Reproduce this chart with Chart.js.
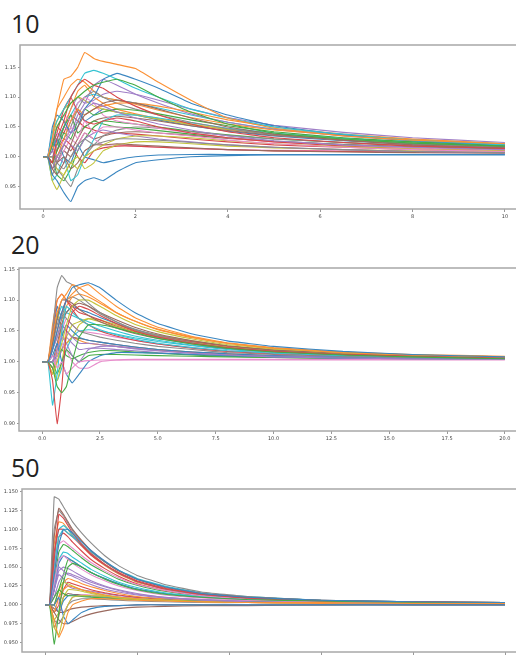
<!DOCTYPE html>
<html>
<head>
<meta charset="utf-8">
<script src="https://cdn.jsdelivr.net/npm/chart.js@4.4.1/dist/chart.umd.min.js"></script>
<style>
  html, body { margin: 0; padding: 0; width: 516px; height: 656px; overflow: hidden; background: #fff; }
  .title { position: absolute; left: 11px; font-family: "Open Sans", sans-serif; font-size: 25px; line-height: 25px; color: #222; }
  canvas { position: absolute; left: 0; }
</style>
</head>
<body>
<div class="title" style="top:11px">10</div>
<canvas id="c10" width="540" height="185" style="top:40px"></canvas>
<div class="title" style="top:232px">20</div>
<canvas id="c20" width="540" height="184" style="top:263px"></canvas>
<div class="title" style="top:455px">50</div>
<canvas id="c50" width="540" height="184" style="top:484px"></canvas>
<script>
// ====== DATA ======
const colors = ["#3a86c0", "#fb9136", "#45ab45", "#d8474a", "#a07fc7", "#9a6a5f", "#e78dcb", "#8c8c8c", "#c3c43d", "#35c3d2"];

// panel "10"
const x10 = [0, 0.1, 0.2, 0.3, 0.45, 0.6, 0.75, 0.9, 1.1, 1.3, 1.6, 2, 2.5, 3.2, 4, 5, 6.5, 8, 10];
const xTicks10 = [0, 2, 4, 6, 8, 10];
const yTicks10 = [0.95, 1.0, 1.05, 1.1, 1.15];
const lines10 = [
  [1,1,0.97,0.96,0.94,0.925,0.95,0.96,0.965,0.96,0.975,0.99,0.995,1.0,1.002,1.003,1.003,1.003,1.003],
  [1,1,1.03,1.08,1.13,1.135,1.15,1.175,1.165,1.16,1.155,1.148,1.125,1.095,1.065,1.048,1.035,1.028,1.022],
  [1,1,1.02,1.05,1.07,1.09,1.1,1.11,1.12,1.125,1.13,1.12,1.1,1.075,1.055,1.04,1.03,1.023,1.018],
  [1,1,0.99,1.03,1.06,1.1,1.12,1.13,1.12,1.115,1.1,1.085,1.07,1.055,1.042,1.032,1.024,1.018,1.014],
  [1,1,1.01,1.0,1.02,1.04,1.06,1.08,1.09,1.085,1.075,1.065,1.055,1.045,1.035,1.027,1.02,1.016,1.012],
  [1,1,0.98,0.97,0.99,1.02,1.05,1.07,1.08,1.09,1.095,1.09,1.08,1.065,1.05,1.038,1.028,1.02,1.015],
  [1,1,1.03,1.04,1.02,1.05,1.03,1.06,1.04,1.05,1.05,1.045,1.04,1.035,1.028,1.022,1.016,1.012,1.009],
  [1,1,1.0,0.99,0.98,1.0,1.02,1.03,1.02,1.025,1.03,1.03,1.028,1.024,1.02,1.016,1.012,1.009,1.007],
  [1,1,0.96,0.945,0.97,0.99,0.98,1.0,1.01,1.02,1.03,1.035,1.035,1.032,1.027,1.022,1.017,1.013,1.01],
  [1,1,1.04,1.06,1.08,1.1,1.12,1.14,1.145,1.14,1.13,1.115,1.1,1.08,1.065,1.05,1.038,1.028,1.02],
  [1,1,1.05,1.07,1.06,1.04,1.05,1.08,1.1,1.13,1.14,1.13,1.115,1.09,1.07,1.052,1.037,1.027,1.02],
  [1,1,1.02,1.0,1.03,1.06,1.08,1.07,1.08,1.085,1.09,1.09,1.085,1.075,1.062,1.05,1.038,1.03,1.022],
  [1,1,0.99,1.01,1.04,1.03,1.06,1.08,1.07,1.075,1.08,1.078,1.072,1.062,1.052,1.042,1.032,1.025,1.019],
  [1,1,1.02,1.04,1.08,1.1,1.075,1.06,1.055,1.06,1.065,1.06,1.05,1.04,1.032,1.025,1.018,1.013,1.01],
  [1,1,0.98,1.0,0.99,1.02,1.01,1.03,1.04,1.045,1.04,1.035,1.03,1.025,1.02,1.016,1.012,1.009,1.007],
  [1,1,1.01,0.99,1.0,0.98,0.99,1.01,1.02,1.02,1.022,1.02,1.018,1.015,1.012,1.01,1.008,1.007,1.006],
  [1,1,1.03,1.05,1.07,1.06,1.09,1.1,1.09,1.07,1.06,1.055,1.048,1.04,1.032,1.025,1.019,1.015,1.011],
  [1,1,0.97,0.99,1.02,1.05,1.08,1.1,1.11,1.1,1.09,1.08,1.07,1.058,1.047,1.037,1.028,1.021,1.016],
  [1,1,1.0,0.98,0.97,0.99,1.0,0.98,0.99,1.01,1.02,1.025,1.025,1.022,1.018,1.015,1.012,1.01,1.008],
  [1,1,0.96,0.97,1.0,0.96,0.97,1.0,1.03,1.06,1.07,1.07,1.065,1.057,1.048,1.04,1.031,1.025,1.02],
  [1,1,1.01,1.03,1.0,0.99,1.02,1.0,0.995,0.99,0.995,1.0,1.003,1.004,1.004,1.004,1.004,1.004,1.004],
  [1,1,1.04,1.08,1.1,1.12,1.13,1.125,1.11,1.1,1.095,1.088,1.078,1.066,1.055,1.045,1.036,1.028,1.021],
  [1,1,1.02,1.02,1.05,1.07,1.04,1.05,1.06,1.055,1.05,1.048,1.044,1.038,1.032,1.026,1.02,1.016,1.013],
  [1,1,0.99,1.01,1.03,1.02,1.0,0.99,1.01,1.015,1.018,1.018,1.016,1.014,1.012,1.01,1.009,1.008,1.007],
  [1,1,1.0,1.02,1.05,1.04,1.07,1.09,1.12,1.13,1.12,1.105,1.09,1.072,1.058,1.046,1.035,1.027,1.02],
  [1,1,0.98,1.0,1.02,1.01,1.03,1.05,1.06,1.065,1.068,1.065,1.06,1.052,1.044,1.036,1.028,1.022,1.017],
  [1,1,1.02,0.99,1.01,1.03,1.02,1.04,1.03,1.02,1.02,1.018,1.016,1.014,1.012,1.011,1.01,1.009,1.008],
  [1,1,0.99,0.98,0.965,0.95,0.98,1.0,1.02,1.035,1.045,1.05,1.048,1.042,1.036,1.03,1.024,1.019,1.015],
  [1,1,1.03,1.06,1.08,1.09,1.1,1.095,1.085,1.08,1.075,1.07,1.063,1.054,1.046,1.038,1.03,1.024,1.019],
  [1,1,1.02,1.03,1.05,1.07,1.09,1.1,1.105,1.1,1.095,1.09,1.082,1.07,1.058,1.047,1.037,1.029,1.022],
  [1,1,1.01,1.04,1.03,1.06,1.08,1.06,1.07,1.08,1.075,1.07,1.062,1.052,1.043,1.035,1.027,1.021,1.016],
  [1,1,0.99,1.02,1.05,1.08,1.11,1.12,1.1,1.09,1.08,1.072,1.064,1.055,1.046,1.038,1.03,1.024,1.018],
  [1,1,1.0,0.97,0.96,0.98,1.01,1.03,1.05,1.06,1.058,1.055,1.05,1.043,1.037,1.03,1.024,1.019,1.015],
  [1,1,1.02,1.05,1.04,1.07,1.06,1.05,1.045,1.04,1.04,1.038,1.035,1.03,1.025,1.02,1.016,1.012,1.009],
  [1,1,1.03,1.01,1.05,1.08,1.1,1.09,1.095,1.105,1.11,1.105,1.095,1.08,1.066,1.053,1.041,1.032,1.024],
  [1,1,0.98,0.99,1.01,1.0,1.02,1.04,1.03,1.035,1.04,1.042,1.04,1.036,1.031,1.026,1.021,1.017,1.013]
];

// panel "20"
const x20 = [0, 0.25, 0.45, 0.65, 0.85, 1.05, 1.3, 1.6, 2, 2.5, 3.2, 4, 5, 6.5, 8, 10, 13, 16, 20];
const xTicks20 = [0, 2.5, 5, 7.5, 10, 12.5, 15, 17.5, 20];
const yTicks20 = [0.9, 0.95, 1.0, 1.05, 1.1, 1.15];
const lines20 = [
  [1,1,1.02,1.05,1.08,1.1,1.12,1.125,1.128,1.12,1.1,1.08,1.062,1.045,1.034,1.025,1.017,1.012,1.008],
  [1,1,1.04,1.08,1.1,1.11,1.125,1.12,1.11,1.098,1.08,1.066,1.052,1.039,1.03,1.022,1.015,1.011,1.008],
  [1,1,0.99,0.96,0.95,0.96,1.0,1.04,1.06,1.06,1.055,1.047,1.038,1.029,1.022,1.016,1.011,1.008,1.005],
  [1,1,0.97,0.9,0.96,1.05,1.08,1.09,1.085,1.075,1.062,1.05,1.04,1.03,1.023,1.017,1.012,1.009,1.006],
  [1,1,1.0,1.02,1.04,1.03,1.01,1.0,1.02,1.025,1.025,1.022,1.018,1.014,1.011,1.008,1.006,1.005,1.004],
  [1,1,1.03,1.07,1.1,1.1,1.095,1.085,1.075,1.065,1.055,1.046,1.038,1.029,1.022,1.017,1.012,1.009,1.007],
  [1,1,1.01,0.99,1.0,0.98,0.99,1.0,1.002,1.003,1.003,1.003,1.003,1.003,1.003,1.003,1.003,1.003,1.003],
  [1,1,1.05,1.12,1.14,1.13,1.125,1.11,1.095,1.08,1.065,1.052,1.041,1.031,1.023,1.017,1.012,1.009,1.007],
  [1,1,0.98,1.0,1.03,1.06,1.09,1.1,1.1,1.09,1.075,1.061,1.049,1.037,1.028,1.021,1.015,1.011,1.008],
  [1,1,0.93,0.98,1.05,1.09,1.08,1.07,1.06,1.052,1.044,1.037,1.03,1.023,1.018,1.014,1.01,1.008,1.006],
  [1,1,1.01,1.03,1.0,0.98,0.966,0.98,1.0,1.01,1.015,1.015,1.014,1.012,1.01,1.008,1.006,1.005,1.004],
  [1,1,1.06,1.1,1.11,1.1,1.11,1.12,1.125,1.11,1.09,1.072,1.056,1.041,1.031,1.023,1.016,1.012,1.009],
  [1,1,1.0,0.98,1.0,1.02,1.01,1.0,1.01,1.012,1.012,1.011,1.01,1.009,1.008,1.007,1.006,1.005,1.004],
  [1,1,1.05,1.1,1.11,1.1,1.085,1.07,1.06,1.05,1.042,1.035,1.029,1.022,1.017,1.013,1.01,1.008,1.006],
  [1,1,1.02,1.04,1.06,1.05,1.04,1.03,1.03,1.028,1.025,1.021,1.018,1.014,1.011,1.009,1.007,1.005,1.004],
  [1,1,1.0,1.03,1.06,1.08,1.09,1.095,1.09,1.08,1.068,1.056,1.045,1.034,1.026,1.019,1.014,1.01,1.008],
  [1,1,0.99,1.01,1.03,1.02,1.0,0.99,0.99,1.0,1.003,1.004,1.004,1.004,1.004,1.004,1.004,1.004,1.004],
  [1,1,1.03,1.06,1.08,1.07,1.06,1.05,1.045,1.04,1.035,1.03,1.025,1.02,1.015,1.012,1.009,1.007,1.005],
  [1,1,0.99,0.97,1.0,1.04,1.06,1.065,1.07,1.065,1.057,1.048,1.04,1.031,1.024,1.018,1.013,1.01,1.007],
  [1,1,1.02,1.07,1.09,1.08,1.075,1.07,1.065,1.058,1.05,1.042,1.035,1.027,1.021,1.016,1.012,1.009,1.007],
  [1,1,1.0,1.01,1.04,1.06,1.05,1.04,1.035,1.032,1.028,1.024,1.02,1.016,1.013,1.01,1.008,1.006,1.005],
  [1,1,0.98,1.02,1.06,1.09,1.105,1.11,1.105,1.095,1.08,1.066,1.053,1.04,1.03,1.022,1.015,1.011,1.008],
  [1,1,0.99,1.01,1.02,1.01,1.005,1.01,1.015,1.018,1.018,1.016,1.014,1.011,1.009,1.007,1.006,1.005,1.004],
  [1,1,1.02,1.05,1.08,1.1,1.09,1.08,1.075,1.068,1.058,1.049,1.041,1.032,1.025,1.019,1.014,1.01,1.008],
  [1,1,1.01,1.0,1.02,1.04,1.03,1.02,1.022,1.022,1.02,1.018,1.015,1.012,1.01,1.008,1.006,1.005,1.004],
  [1,1,1.04,1.07,1.06,1.05,1.04,1.038,1.035,1.032,1.028,1.024,1.02,1.016,1.013,1.01,1.008,1.006,1.005],
  [1,1,1.0,1.02,1.05,1.07,1.06,1.05,1.048,1.045,1.04,1.035,1.029,1.023,1.018,1.014,1.01,1.008,1.006],
  [1,1,1.02,1.04,1.07,1.1,1.105,1.1,1.09,1.078,1.065,1.053,1.043,1.033,1.025,1.019,1.014,1.01,1.008],
  [1,1,1.03,1.08,1.05,1.03,1.04,1.06,1.07,1.068,1.06,1.051,1.043,1.034,1.026,1.02,1.014,1.011,1.008],
  [1,1,1.0,0.97,0.99,1.02,1.04,1.05,1.052,1.05,1.045,1.039,1.033,1.026,1.02,1.015,1.011,1.008,1.006],
  [1,1,1.04,1.09,1.07,1.08,1.09,1.085,1.08,1.072,1.062,1.052,1.043,1.033,1.025,1.019,1.014,1.01,1.007],
  [1,1,0.99,1.0,1.02,1.03,1.04,1.035,1.03,1.028,1.025,1.022,1.019,1.015,1.012,1.009,1.007,1.005,1.004]
];

// panel "50"
const x50 = [0, 0.5, 1, 1.5, 2, 2.5, 3, 4, 5, 6.5, 8, 10, 13, 17, 22, 30, 40, 50];
const xTicks50 = [0, 10, 20, 30, 40, 50];
const yTicks50 = [0.95, 0.975, 1.0, 1.025, 1.05, 1.075, 1.1, 1.125, 1.15];
const lines50 = [
  [1,1,1.04,1.08,1.1,1.1,1.095,1.083,1.072,1.058,1.046,1.034,1.024,1.015,1.01,1.006,1.004,1.003],
  [1,1,0.98,0.957,0.97,0.99,1.0,1.005,1.008,1.008,1.007,1.006,1.005,1.004,1.003,1.003,1.002,1.002],
  [1,1,0.948,0.99,1.03,1.05,1.055,1.05,1.043,1.034,1.027,1.02,1.014,1.01,1.007,1.005,1.003,1.003],
  [1,1,1.06,1.12,1.115,1.105,1.095,1.08,1.068,1.054,1.043,1.032,1.022,1.014,1.009,1.005,1.004,1.003],
  [1,1,1.02,1.05,1.045,1.04,1.038,1.032,1.027,1.021,1.017,1.013,1.009,1.006,1.004,1.003,1.002,1.002],
  [1,1,1.09,1.128,1.12,1.11,1.1,1.085,1.072,1.057,1.045,1.034,1.023,1.015,1.01,1.006,1.004,1.003],
  [1,1,1.03,1.06,1.065,1.06,1.055,1.047,1.04,1.032,1.025,1.019,1.013,1.009,1.006,1.004,1.003,1.002],
  [1,1,1.143,1.14,1.13,1.12,1.11,1.095,1.082,1.065,1.052,1.039,1.027,1.017,1.011,1.006,1.004,1.003],
  [1,1,0.97,0.96,0.985,1.0,1.01,1.012,1.012,1.011,1.009,1.007,1.006,1.004,1.003,1.003,1.002,1.002],
  [1,1,1.05,1.09,1.1,1.095,1.09,1.08,1.07,1.057,1.046,1.035,1.025,1.016,1.011,1.006,1.004,1.003],
  [1,1,1.0,1.01,0.985,0.975,0.98,0.99,0.995,0.998,0.999,1.0,1.0,1.0,1.0,1.0,1.0,1.0],
  [1,1,1.0,1.01,1.02,1.025,1.024,1.02,1.017,1.013,1.01,1.008,1.006,1.004,1.003,1.002,1.002,1.002],
  [1,1,1.01,1.02,1.015,1.012,1.012,1.011,1.01,1.009,1.008,1.007,1.006,1.005,1.004,1.003,1.003,1.003],
  [1,1,1.07,1.1,1.1,1.095,1.09,1.078,1.066,1.053,1.042,1.031,1.021,1.014,1.009,1.005,1.004,1.003],
  [1,1,1.01,1.03,1.04,1.042,1.04,1.035,1.03,1.024,1.019,1.014,1.01,1.007,1.005,1.003,1.002,1.002],
  [1,1,0.99,0.98,0.975,0.975,0.978,0.984,0.988,0.992,0.995,0.997,0.998,0.999,0.999,1.0,1.0,1.0],
  [1,1,1.05,1.08,1.085,1.08,1.075,1.065,1.056,1.045,1.036,1.027,1.019,1.012,1.008,1.005,1.003,1.003],
  [1,1,1.1,1.125,1.118,1.108,1.098,1.084,1.071,1.057,1.045,1.034,1.024,1.015,1.01,1.006,1.004,1.003],
  [1,1,0.98,0.99,1.01,1.02,1.02,1.018,1.015,1.012,1.01,1.008,1.006,1.005,1.004,1.003,1.002,1.002],
  [1,1,1.03,1.06,1.07,1.068,1.063,1.055,1.047,1.038,1.03,1.023,1.016,1.011,1.007,1.005,1.003,1.003],
  [1,1,1.02,1.055,1.065,1.062,1.058,1.05,1.043,1.035,1.028,1.021,1.015,1.01,1.007,1.004,1.003,1.002],
  [1,1,0.99,1.01,1.03,1.035,1.033,1.028,1.024,1.019,1.015,1.011,1.008,1.006,1.004,1.003,1.002,1.002],
  [1,1,1.0,1.02,1.04,1.06,1.058,1.05,1.043,1.035,1.028,1.021,1.015,1.01,1.007,1.005,1.003,1.003],
  [1,1,1.04,1.09,1.095,1.09,1.083,1.071,1.06,1.048,1.038,1.028,1.019,1.012,1.008,1.005,1.003,1.003],
  [1,1,1.02,1.045,1.05,1.048,1.045,1.038,1.032,1.025,1.02,1.015,1.01,1.007,1.005,1.003,1.002,1.002],
  [1,1,0.995,0.99,0.99,0.993,0.995,0.997,0.998,0.999,0.999,1.0,1.0,1.0,1.0,1.0,1.0,1.0],
  [1,1,1.02,1.0,0.99,1.0,1.01,1.013,1.013,1.012,1.01,1.008,1.006,1.004,1.003,1.002,1.002,1.002],
  [1,1,0.98,0.975,0.985,1.0,1.005,1.008,1.008,1.007,1.006,1.005,1.004,1.003,1.003,1.002,1.002,1.002],
  [1,1,1.0,1.02,1.03,1.028,1.025,1.02,1.016,1.013,1.01,1.008,1.006,1.004,1.003,1.002,1.002,1.002],
  [1,1,1.06,1.1,1.105,1.1,1.092,1.079,1.067,1.053,1.042,1.031,1.021,1.013,1.009,1.005,1.004,1.003],
  [1,1,1.0,0.99,1.005,1.012,1.013,1.012,1.011,1.01,1.009,1.008,1.007,1.006,1.005,1.004,1.003,1.003],
  [1,1,1.08,1.11,1.108,1.1,1.092,1.078,1.066,1.052,1.041,1.03,1.021,1.013,1.009,1.005,1.004,1.003],
  [1,1,1.03,1.07,1.08,1.077,1.072,1.062,1.053,1.043,1.034,1.026,1.018,1.012,1.008,1.005,1.003,1.003],
  [1,1,0.99,1.0,1.02,1.03,1.028,1.024,1.02,1.016,1.013,1.01,1.007,1.005,1.004,1.003,1.002,1.002],
  [1,1,1.02,1.04,1.035,1.025,1.022,1.02,1.018,1.015,1.012,1.01,1.008,1.006,1.004,1.003,1.002,1.002],
  [1,1,0.97,0.985,1.01,1.015,1.014,1.013,1.012,1.011,1.01,1.009,1.008,1.006,1.005,1.004,1.003,1.003]
];

// ====== FRAME PLUGIN ======
const frame = {
  id: "frame",
  afterDatasetsDraw(chart) {
    const a = chart.chartArea, ctx = chart.ctx;
    ctx.save();
    ctx.strokeStyle = "#a8a8a8";
    ctx.lineWidth = 1.5;
    ctx.strokeRect(a.left, a.top, a.right - a.left, a.bottom - a.top);
    ctx.restore();
  }
};

// ====== CHART ======
function panel(id, xs, lines, xTicks, yTicks, xMin, xMax, yMin, yMax, yWidth, xDec, yDec) {
  const datasets = lines.map((ys, i) => ({
    data: ys.map((y, j) => ({ x: xs[j], y })),
    borderColor: colors[i % colors.length],
    borderWidth: 1.1,
    pointRadius: 0,
    showLine: true,
    tension: 0.1
  }));
  const tickFont = { family: "DejaVu Sans", size: 5 };
  new Chart(document.getElementById(id), {
    type: "scatter",
    data: { datasets },
    options: {
      responsive: false,
      animation: false,
      layout: { padding: { top: 4, right: 12, left: 0, bottom: 0 } },
      plugins: { legend: { display: false }, tooltip: { enabled: false } },
      scales: {
        x: {
          type: "linear", min: xMin, max: xMax,
          afterBuildTicks: s => { s.ticks = xTicks.map(v => ({ value: v })); },
          afterFit: s => { s.height = 16; },
          grid: { display: true, drawOnChartArea: false, drawTicks: true, tickLength: 3, color: "#999" },
          border: { display: false },
          ticks: { font: tickFont, color: "#444", padding: 2, maxRotation: 0, callback: v => v.toFixed(xDec) }
        },
        y: {
          type: "linear", min: yMin, max: yMax,
          afterBuildTicks: s => { s.ticks = yTicks.map(v => ({ value: v })); },
          afterFit: s => { s.width = yWidth; },
          grid: { display: true, drawOnChartArea: false, drawTicks: true, tickLength: 2, color: "#999" },
          border: { display: false },
          ticks: { font: tickFont, color: "#444", padding: 2, callback: v => v.toFixed(yDec) }
        }
      }
    },
    plugins: [frame]
  });
}

panel("c10", x10, lines10, xTicks10, yTicks10, -0.5, 10.5, 0.9125, 1.1875, 20, 0, 2);
panel("c20", x20, lines20, xTicks20, yTicks20, -1, 21, 0.888, 1.152, 19, 1, 2);
panel("c50", x50, lines50, xTicks50, yTicks50, -2.5, 52.5, 0.9375, 1.1535, 22, 0, 3);
</script>
</body>
</html>
